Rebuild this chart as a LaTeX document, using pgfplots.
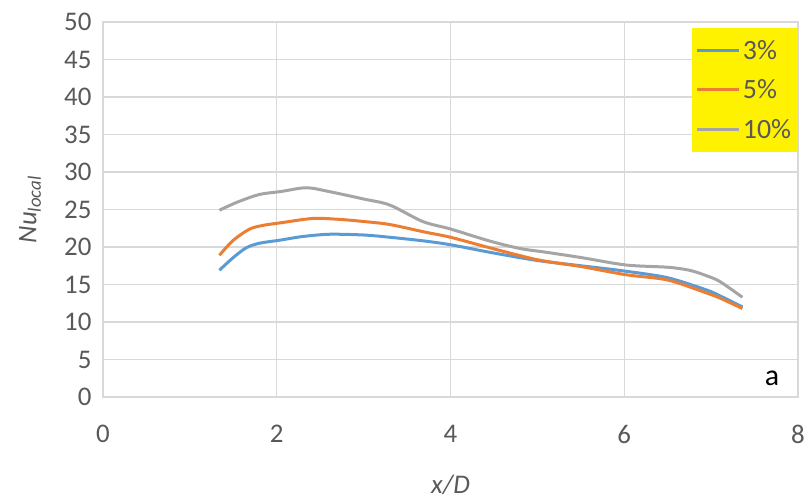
\documentclass[border=0pt]{standalone}
\usepackage{pgfplots}
\pgfplotsset{compat=1.18}
\usepackage{fontspec}
\setmainfont{Carlito}
\definecolor{sblue}{HTML}{5B9BD5}
\definecolor{sorange}{HTML}{ED7D31}
\definecolor{sgray}{HTML}{A5A5A5}
\definecolor{txtgray}{HTML}{595959}
\definecolor{gridgray}{HTML}{D9D9D9}
\begin{document}
\begin{tikzpicture}
\begin{axis}[
  scale only axis, width=695bp, height=375bp,
  xmin=0, xmax=8, ymin=0, ymax=50,
  xtick={0,2,4,6,8}, ytick={0,5,...,50},
  grid=major,
  major grid style={gridgray, line width=1.3bp},
  axis line style={gridgray, line width=1.3bp},
  major tick length=0pt,
  /pgf/number format/assume math mode=true,
  tick label style={font=\fontsize{27}{31}\selectfont, text=txtgray},
  xticklabel style={yshift=-25bp},
  yticklabel style={xshift=-8bp},
  xlabel={\itshape x/D},
  ylabel={\itshape Nu\textsubscript{local}},
  every axis x label/.style={at={(axis description cs:0.5,-0.235)}, anchor=center, font=\fontsize{27}{31}\selectfont, text=txtgray},
  every axis y label/.style={at={(axis description cs:-0.105,0.5)}, rotate=90, anchor=center, font=\fontsize{27}{31}\selectfont, text=txtgray},
  legend style={at={(rel axis cs:0.999,0.984)}, anchor=north east, fill=yellow, draw=none,
    font=\fontsize{28}{32}\selectfont, text=txtgray, inner xsep=4bp, inner ysep=10bp, row sep=15bp},
  legend cell align=left,
  legend image code/.code={\draw[#1, line width=3bp] (0bp,0bp) -- (42bp,0bp);},
  every axis plot/.append style={smooth, tension=0.5, line width=3bp, mark=none},
]
\addplot[sblue] coordinates {(1.34,16.9) (1.5,18.6) (1.65,19.9) (1.8,20.5) (2.03,20.9) (2.3,21.4) (2.61,21.7) (3.0,21.6) (3.3,21.3) (3.7,20.8) (4.0,20.3) (4.45,19.3) (5.0,18.2) (5.5,17.5) (6.0,16.8) (6.5,15.9) (6.94,14.3) (7.1,13.5) (7.36,12.0)};
\addlegendentry{3\%}
\addplot[sorange] coordinates {(1.34,18.9) (1.5,20.9) (1.69,22.4) (1.85,22.9) (2.03,23.2) (2.41,23.8) (2.7,23.7) (3.0,23.4) (3.3,23.0) (3.7,22.0) (4.0,21.3) (4.45,19.9) (5.0,18.3) (5.5,17.4) (6.02,16.3) (6.5,15.6) (6.94,13.9) (7.1,13.2) (7.36,11.8)};
\addlegendentry{5\%}
\addplot[sgray] coordinates {(1.34,24.9) (1.55,26.0) (1.8,27.0) (2.05,27.4) (2.34,27.9) (2.6,27.4) (3.0,26.4) (3.3,25.6) (3.68,23.4) (4.0,22.4) (4.45,20.8) (4.8,19.8) (5.1,19.3) (5.5,18.6) (6.02,17.6) (6.5,17.3) (6.75,16.9) (6.94,16.2) (7.1,15.4) (7.36,13.3)};
\addlegendentry{10\%}
\node[font=\fontsize{30}{34}\selectfont, text=black] at (axis cs:7.7,2.5) {a};
\end{axis}
\pgfresetboundingbox
\path (-103bp,-105bp) rectangle (708bp,397bp);
\end{tikzpicture}
\end{document}
